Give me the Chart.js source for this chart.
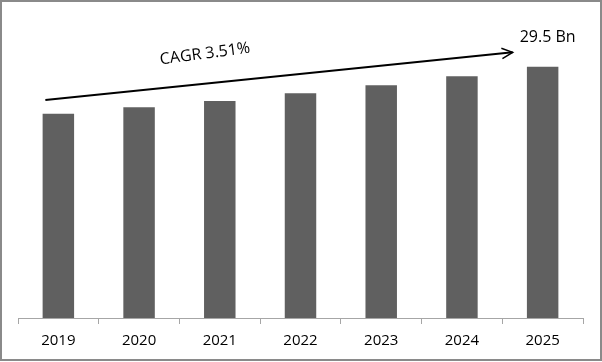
<!DOCTYPE html>
<html><head><meta charset="utf-8">
<script src="https://cdn.jsdelivr.net/npm/chart.js@4/dist/chart.umd.min.js"></script>
<style>
html,body{margin:0;padding:0;background:#fff;}
#wrap{position:relative;width:602px;height:361px;box-sizing:border-box;border:2px solid #8a8a8a;}
canvas{position:absolute;left:-2px;top:-2px;}
</style></head><body>
<div id="wrap"><canvas id="c" width="602" height="362"></canvas></div>
<script>
const years = ["2019","2020","2021","2022","2023","2024","2025"];
const marketValues = [24.0, 24.75, 25.5, 26.4, 27.35, 28.4, 29.5];
const cagrLabel = "CAGR 3.51%";
const endLabel = "29.5 Bn";

const annot = {
  id: 'annot',
  afterDatasetsDraw(chart) {
    const ctx = chart.ctx, x = chart.scales.x, y = chart.scales.y;
    const x0 = x.getPixelForValue(0) - 13, y0 = y.getPixelForValue(25.6);
    const x1 = x.getPixelForValue(6) - 30, y1 = y.getPixelForValue(31.2);
    ctx.save();
    ctx.strokeStyle = '#000'; ctx.lineWidth = 2;
    ctx.beginPath(); ctx.moveTo(x0, y0); ctx.lineTo(x1, y1); ctx.stroke();
    const ang = Math.atan2(y1 - y0, x1 - x0);
    ctx.lineWidth = 1.5;
    ctx.beginPath();
    ctx.moveTo(x1 - 12*Math.cos(ang - 0.45), y1 - 12*Math.sin(ang - 0.45));
    ctx.lineTo(x1, y1);
    ctx.lineTo(x1 - 12*Math.cos(ang + 0.45), y1 - 12*Math.sin(ang + 0.45));
    ctx.stroke();
    ctx.fillStyle = '#000';
    ctx.font = '16px "Open Sans", "Noto Sans", sans-serif';
    ctx.textAlign = 'center'; ctx.textBaseline = 'middle';
    ctx.translate(205, 54);
    ctx.rotate(-0.13);
    ctx.fillText(cagrLabel, 0, 0);
    ctx.restore();
    ctx.save();
    ctx.fillStyle = '#000';
    ctx.font = '16px "Open Sans", "Noto Sans", sans-serif';
    ctx.textAlign = 'center'; ctx.textBaseline = 'middle';
    ctx.fillText(endLabel, x.getPixelForValue(6) + 5, 37);
    ctx.restore();
  }
};

new Chart(document.getElementById('c'), {
  type: 'bar',
  data: { labels: years, datasets: [{ data: marketValues, backgroundColor: '#606060', borderWidth: 0,
    barPercentage: 0.39, categoryPercentage: 1.0 }] },
  options: {
    responsive: false, animation: false, devicePixelRatio: 1,
    layout: { padding: { left: 18, right: 19, top: 20, bottom: 4 } },
    plugins: { legend: { display: false }, tooltip: { enabled: false } },
    scales: {
      x: {
        grid: { display: true, drawOnChartArea: false, drawTicks: true, tickLength: 6, color: '#a6a6a6', offset: true },
        border: { display: true, color: '#a6a6a6', width: 1 },
        ticks: { color: '#000', padding: 8, font: { size: 15, family: '"Open Sans", "Noto Sans", sans-serif' } }
      },
      y: { display: false, min: 0, max: 35 }
    }
  },
  plugins: [annot]
});
</script>
</body></html>
